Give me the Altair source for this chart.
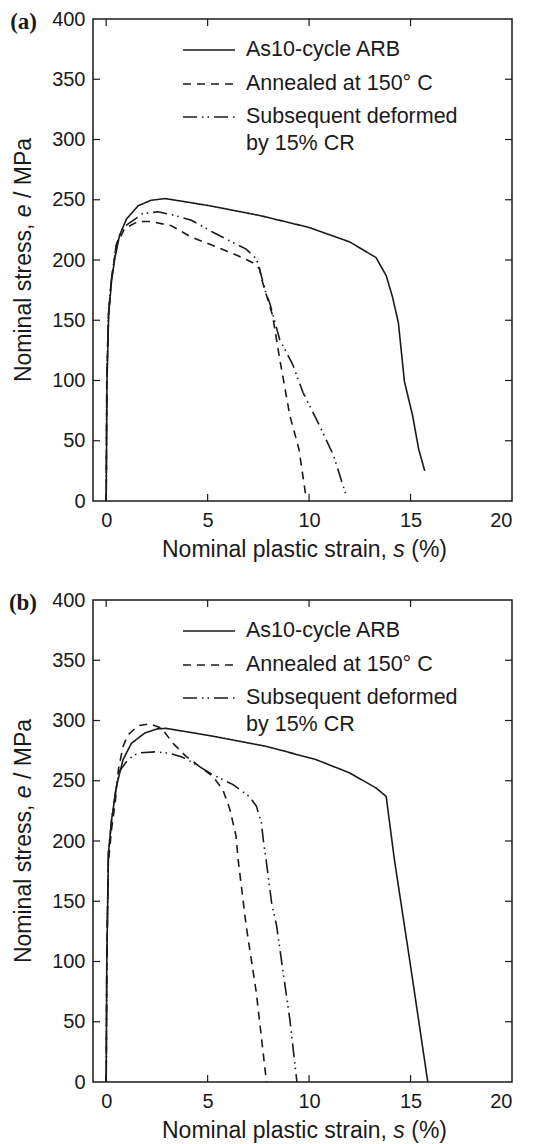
import altair as alt
import pandas as pd

SERIES = ["As10-cycle ARB", "Annealed at 150\u00b0 C", "Subsequent deformed by 15% CR"]
LEGEND_LINES = [["As10-cycle ARB"], ["Annealed at 150\u00b0 C"], ["Subsequent deformed", "by 15% CR"]]
X_TITLE_PARTS = ["Nominal plastic strain, ", "s", " (%)"]
Y_TITLE_PARTS = ["Nominal stress, ", "e", " / MPa"]

# Panel (a)
A_SOLID_X = [0, 0.04, 0.12, 0.26, 0.42, 0.66, 1.0, 1.57, 2.2, 2.9, 4.2, 5.1, 7.55, 10.0, 12.0, 13.3, 13.8, 14.1, 14.4, 14.7, 15.1, 15.4, 15.7]
A_SOLID_Y = [0, 100, 154, 182, 201, 220.5, 234, 245, 249.5, 251, 247.5, 245, 237, 227, 215, 202, 187, 170, 148, 99, 71, 43, 25]
A_DASH_X = [0, 0.03, 0.11, 0.25, 0.5, 0.9, 1.57, 2.2, 3.2, 4.2, 5.26, 6.3, 7.2, 7.55, 7.7, 8.2, 8.55, 9.05, 9.5, 9.85]
A_DASH_Y = [0, 100, 154, 183, 212, 226, 232, 232, 228.5, 219, 212, 205, 198, 193, 182, 154, 118, 71, 43, 3]
A_DD_X = [0, 0.03, 0.11, 0.25, 0.5, 0.83, 1.8, 2.55, 3.37, 4.2, 5.26, 6.9, 7.4, 7.55, 7.9, 8.05, 8.55, 9.2, 9.7, 10.5, 11.2, 11.8]
A_DD_Y = [0, 100, 154, 183, 213, 227, 238.5, 240, 237, 233, 223, 209, 201, 193, 171, 165, 134, 113, 90, 63, 38, 6]

# Panel (b)
B_SOLID_X = [0, 0.03, 0.11, 0.27, 0.5, 0.83, 1.24, 1.9, 2.5, 2.95, 5.25, 7.9, 10.35, 12.0, 13.3, 13.8, 14.2, 14.95, 15.85]
B_SOLID_Y = [0, 100, 190, 218, 245, 267.5, 281, 289.6, 293, 293.5, 287, 278.5, 267.5, 256.5, 244, 237, 185, 102, 0]
B_DASH_X = [0, 0.03, 0.1, 0.25, 0.44, 0.6, 0.83, 1.07, 1.57, 2.14, 2.72, 3.3, 3.95, 5.25, 5.75, 6.1, 6.4, 6.5, 6.9, 7.4, 7.9]
B_DASH_Y = [0, 100, 180, 208, 231.6, 259, 278.5, 288, 295.6, 297.3, 293.7, 281, 270, 253.7, 242.6, 226, 204, 185, 129.5, 74, 0]
B_DD_X = [0, 0.03, 0.11, 0.27, 0.5, 0.66, 1.07, 1.57, 2.4, 3.05, 3.7, 4.3, 5.25, 6.25, 7.05, 7.4, 7.65, 7.75, 7.9, 8.15, 8.4, 8.7, 9.05, 9.4]
B_DD_Y = [0, 100, 190, 218, 245, 258, 267.5, 273, 274, 273, 270, 264.8, 255, 246.8, 237, 229, 215, 200, 182, 149, 129.5, 93.6, 52, 0]

X_TICKS = [0, 5, 10, 15]
Y_TICKS = [50, 100, 150, 200, 250, 300, 350]

W, H = 419, 482
TICK = 7
FONT = "Liberation Sans"
INK = "#1a1a1a"
DASHES = [[1, 0], [8, 6], [14, 5, 1.5, 4, 1.5, 5]]
LEG_ROWS = [31, 65, 98]  # legend row centres, px below plot top
LEG_X0, LEG_X1, LEG_TX = 90, 142, 153
TITLE_FS = 23

# Arial/Liberation Sans advance widths (em) for the title pieces
ADV = {" ": .278, ",": .278, "(": .333, ")": .333, "%": .889, "/": .278,
       "N": .722, "M": .833, "P": .667, "a": .556, "c": .5, "e": .556, "i": .222,
       "l": .222, "m": .833, "n": .556, "o": .556, "p": .556, "r": .333, "s": .5, "t": .278}


def text_width(s):
    return sum(ADV.get(ch, .556) for ch in s) * TITLE_FS


def make_df(curves):
    rows = []
    for name, (xs, ys) in zip(SERIES, curves):
        for i, (x, y) in enumerate(zip(xs, ys)):
            rows.append({"x": x, "y": y, "series": name, "order": i})
    return pd.DataFrame(rows)


def lead(s):
    return text_width(s[: len(s) - len(s.lstrip())])


def title_layers():
    out = []
    # x title, horizontal, italic middle piece
    total = sum(text_width(p) for p in X_TITLE_PARTS)
    pos = W / 2 + 2 - total / 2
    for i, part in enumerate(X_TITLE_PARTS):
        out.append(alt.Chart(pd.DataFrame({"t": [part.strip()]})).mark_text(
            font=FONT, fontSize=TITLE_FS, align="left", baseline="middle", color=INK,
            fontStyle="italic" if i == 1 else "normal").encode(
            text="t:N", x=alt.value(pos + lead(part)), y=alt.value(H + 49)))
        pos += text_width(part)
    # y title, rotated
    total = sum(text_width(p) for p in Y_TITLE_PARTS)
    pos = H / 2 + total / 2
    for i, part in enumerate(Y_TITLE_PARTS):
        out.append(alt.Chart(pd.DataFrame({"t": [part.strip()]})).mark_text(
            font=FONT, fontSize=TITLE_FS, align="left", baseline="middle", color=INK,
            angle=270, fontStyle="italic" if i == 1 else "normal").encode(
            text="t:N", x=alt.value(-69), y=alt.value(pos - lead(part))))
        pos -= text_width(part)
    return out


def panel(tag, curves):
    df = make_df(curves)
    xscale = alt.Scale(domain=[-0.65, 20], nice=False, zero=False)
    yscale = alt.Scale(domain=[0, 400], nice=False)
    xaxis = alt.Axis(values=[0, 5, 10, 15, 20], title=None,
                     ticks=False, domain=False, grid=False, labelPadding=9)
    yaxis = alt.Axis(values=[0, 50, 100, 150, 200, 250, 300, 350, 400], title=None,
                     ticks=False, domain=False, grid=False, labelPadding=8)
    lines = alt.Chart(df).mark_line(color=INK, strokeWidth=1.6).encode(
        x=alt.X("x:Q", scale=xscale, axis=xaxis),
        y=alt.Y("y:Q", scale=yscale, axis=yaxis),
        strokeDash=alt.StrokeDash("series:N", scale=alt.Scale(domain=SERIES, range=DASHES), legend=None),
        order="order:Q",
    )
    xt = pd.DataFrame({"x": X_TICKS})
    yt = pd.DataFrame({"y": Y_TICKS})
    bottom = alt.Chart(xt).mark_rule(color=INK, strokeWidth=1.2).encode(
        x=alt.X("x:Q", scale=xscale, axis=xaxis), y=alt.value(H), y2=alt.value(H - TICK))
    top = alt.Chart(xt).mark_rule(color=INK, strokeWidth=1.2).encode(
        x=alt.X("x:Q", scale=xscale, axis=xaxis), y=alt.value(0), y2=alt.value(TICK))
    left = alt.Chart(yt).mark_rule(color=INK, strokeWidth=1.2).encode(
        y=alt.Y("y:Q", scale=yscale, axis=yaxis), x=alt.value(0), x2=alt.value(TICK))
    right = alt.Chart(yt).mark_rule(color=INK, strokeWidth=1.2).encode(
        y=alt.Y("y:Q", scale=yscale, axis=yaxis), x=alt.value(W), x2=alt.value(W - TICK))
    label = alt.Chart(pd.DataFrame({"t": [tag]})).mark_text(
        font="Liberation Serif", fontWeight="bold", fontSize=23, align="right",
        baseline="middle", color=INK).encode(
        text="t:N", x=alt.value(-56), y=alt.value(3))
    layers = [lines, bottom, top, left, right, label] + title_layers()
    # legend
    for name, dash, txt, ry in zip(SERIES, DASHES, LEGEND_LINES, LEG_ROWS):
        sym = alt.Chart(pd.DataFrame({"s": [name]})).mark_rule(
            color=INK, strokeWidth=1.6, strokeDash=dash).encode(
            x=alt.value(LEG_X0), x2=alt.value(LEG_X1), y=alt.value(ry))
        lab = alt.Chart(pd.DataFrame({"t": [txt]})).mark_text(
            font=FONT, fontSize=21.5, align="left", baseline="middle", color=INK,
            lineHeight=27).encode(
            text="t", x=alt.value(LEG_TX), y=alt.value(ry))
        layers += [sym, lab]
    return alt.layer(*layers).properties(width=W, height=H)


chart = alt.vconcat(
    panel("(a)", [(A_SOLID_X, A_SOLID_Y), (A_DASH_X, A_DASH_Y), (A_DD_X, A_DD_Y)]),
    panel("(b)", [(B_SOLID_X, B_SOLID_Y), (B_DASH_X, B_DASH_Y), (B_DD_X, B_DD_Y)]),
    spacing=26,
).properties(
    padding={"left": 0, "top": 0, "right": 5, "bottom": 0}
).configure_view(
    stroke=INK, strokeWidth=1.5
).configure_axis(
    labelFont=FONT, labelFontSize=20, labelColor=INK,
)

chart.save("out.html", embed_options={"renderer": "svg", "actions": False})
